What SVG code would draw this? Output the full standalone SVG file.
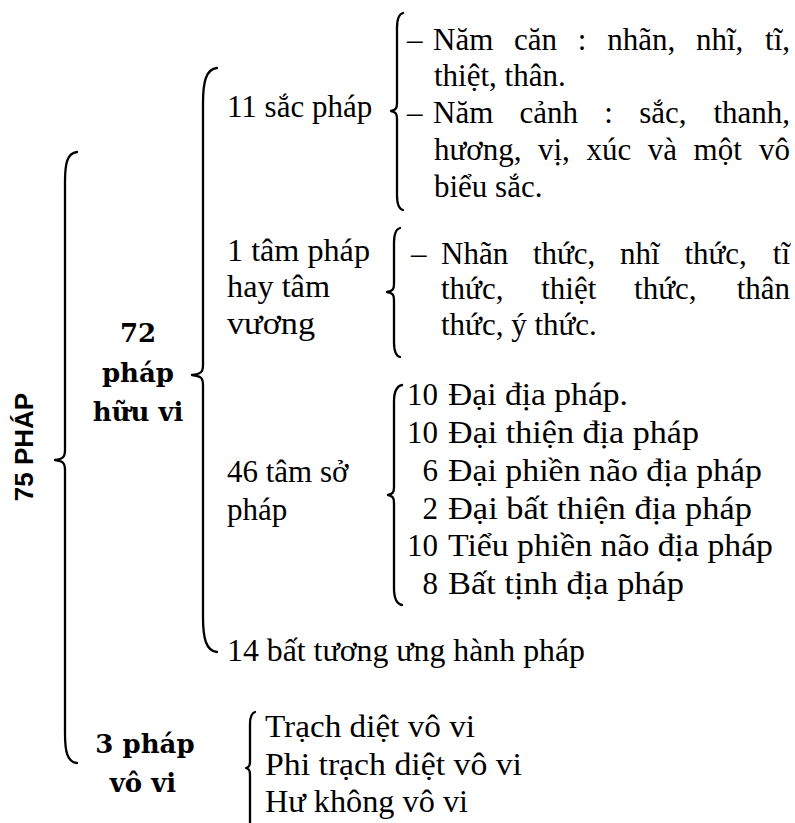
<svg xmlns="http://www.w3.org/2000/svg" width="795" height="823" viewBox="0 0 795 823">
<style>
.t{font-family:"Liberation Serif","Times New Roman",serif;font-size:31px;fill:#000}
.e{text-anchor:end}
.b{font-family:"DejaVu Serif",serif;font-weight:bold;font-size:26px;text-anchor:middle;fill:#000}
.s{font-family:"Liberation Sans",Arial,sans-serif;font-weight:bold;font-size:26px;text-anchor:middle;fill:#000}
.br{fill:none;stroke:#000;stroke-width:2.3;stroke-linecap:round;stroke-linejoin:round}
</style>
<rect width="795" height="823" fill="#fff"/>
<g id="connectors">
<path class="br" d="M77,152 C67,153 65,164 65,182 L65,450 C65,457 63,459 55,460 C63,461 65,463 65,470 L65,733 C65,751 67,762 77,763"/>
<path class="br" d="M217,68 C206,69 203,82 203,103 L203,365 C203,372 201,374 192,375 C201,376 203,378 203,385 L203,617 C203,638 206,651 217,652"/>
<path class="br" d="M403,13 C399,14 397,18 397,28 L397,103 C397,108 396,110 391,111 C396,112 397,114 397,119 L397,195 C397,205 399,209 403,210"/>
<path class="br" d="M400,228 C396,229 394,233 394,243 L394,284 C394,289 393,291 387,292 C393,293 394,295 394,300 L394,342 C394,352 396,356 400,357"/>
<path class="br" d="M402,385 C397,386 394,391 394,402 L394,487 C394,492 393,494 388,495 C393,496 394,498 394,503 L394,588 C394,599 397,604 402,605"/>
<path class="br" d="M255,712 C252,713 250,716 250,724 L250,761 C250,766 249,767 246,768 C249,769 250,770 250,775 L250,830"/>
</g>
<g id="n75">
<text class="s" transform="translate(33,447) rotate(-90)">75 PHÁP</text>
</g>
<g id="n72">
<text class="b" x="138" y="342">72</text>
<text class="b" x="138" y="382">pháp</text>
<text class="b" x="138" y="421">hữu vi</text>
</g>
<g id="n3">
<text class="b" x="145" y="753">3 pháp</text>
<text class="b" x="143" y="792">vô vi</text>
</g>
<g id="sac">
<text class="t" x="227" y="117">11 sắc pháp</text>
</g>
<g id="sac-items">
<text class="t" x="407" y="50">–</text>
<text class="t" x="433" y="50" word-spacing="13">Năm căn : nhãn, nhĩ,</text>
<text class="t e" x="790" y="50">tĩ,</text>
<text class="t" x="434" y="86">thiệt, thân.</text>
<text class="t" x="407" y="123">–</text>
<text class="t" x="433" y="123" word-spacing="18.5">Năm cảnh : sắc,</text>
<text class="t e" x="790" y="123">thanh,</text>
<text class="t" x="434" y="160" word-spacing="8.8">hương, vị, xúc và một</text>
<text class="t e" x="790" y="160">vô</text>
<text class="t" x="434" y="197">biểu sắc.</text>
</g>
<g id="tam">
<text class="t" x="227" y="261" textLength="143" lengthAdjust="spacingAndGlyphs">1 tâm pháp</text>
<text class="t" x="227" y="297" textLength="103" lengthAdjust="spacingAndGlyphs">hay tâm</text>
<text class="t" x="227" y="334" textLength="88" lengthAdjust="spacingAndGlyphs">vương</text>
</g>
<g id="tam-items">
<text class="t" x="411" y="264">–</text>
<text class="t" x="441" y="264" word-spacing="17">Nhãn thức, nhĩ thức,</text>
<text class="t e" x="790" y="264">tĩ</text>
<text class="t" x="441" y="299" word-spacing="30">thức, thiệt thức,</text>
<text class="t e" x="790" y="299">thân</text>
<text class="t" x="441" y="335">thức, ý thức.</text>
</g>
<g id="tamso">
<text class="t" x="227" y="482">46 tâm sở</text>
<text class="t" x="227" y="520">pháp</text>
</g>
<g id="tamso-items">
<text class="t e" x="438" y="405">10</text><text class="t" x="448" y="405" textLength="180" lengthAdjust="spacingAndGlyphs">Đại địa pháp.</text>
<text class="t e" x="438" y="443">10</text><text class="t" x="448" y="443" textLength="251" lengthAdjust="spacingAndGlyphs">Đại thiện địa pháp</text>
<text class="t e" x="438" y="481">6</text><text class="t" x="448" y="481" textLength="314" lengthAdjust="spacingAndGlyphs">Đại phiền não địa pháp</text>
<text class="t e" x="438" y="519">2</text><text class="t" x="448" y="519" textLength="304" lengthAdjust="spacingAndGlyphs">Đại bất thiện địa pháp</text>
<text class="t e" x="438" y="556">10</text><text class="t" x="448" y="556" textLength="325" lengthAdjust="spacingAndGlyphs">Tiểu phiền não địa pháp</text>
<text class="t e" x="438" y="594">8</text><text class="t" x="448" y="594" textLength="236" lengthAdjust="spacingAndGlyphs">Bất tịnh địa pháp</text>
</g>
<g id="batuong">
<text class="t" x="227" y="661" textLength="358" lengthAdjust="spacingAndGlyphs">14 bất tương ưng hành pháp</text>
</g>
<g id="vovi-items">
<text class="t" x="265" y="737" textLength="210" lengthAdjust="spacingAndGlyphs">Trạch diệt vô vi</text>
<text class="t" x="265" y="775" textLength="257" lengthAdjust="spacingAndGlyphs">Phi trạch diệt vô vi</text>
<text class="t" x="265" y="812" textLength="203" lengthAdjust="spacingAndGlyphs">Hư không vô vi</text>
</g>
</svg>
